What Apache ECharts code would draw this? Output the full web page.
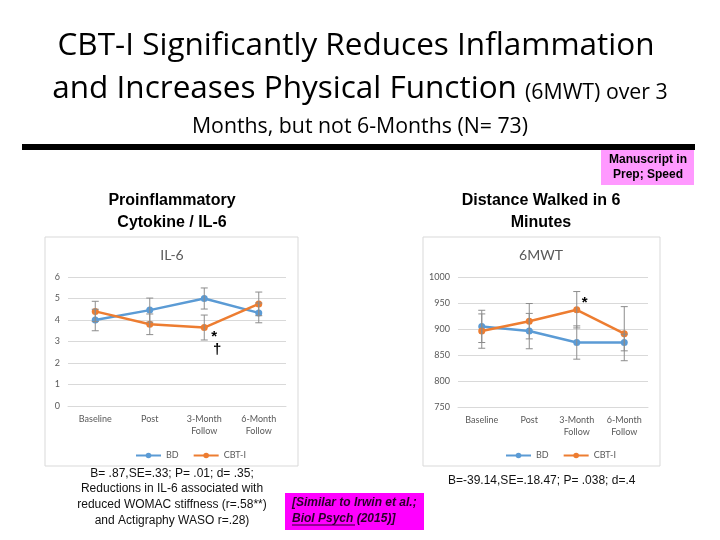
<!DOCTYPE html>
<html>
<head>
<meta charset="utf-8">
<script src="https://cdn.jsdelivr.net/npm/echarts@6/dist/echarts.min.js"></script>
<style>html,body{margin:0;padding:0;background:#fff}#c{width:720px;height:540px}</style>
</head>
<body>
<div id="c"></div>
<script>
// ---- data ----
const categories = ['Baseline', 'Post', '3-Month\nFollow', '6-Month\nFollow'];
const il6BD = [4.0, 4.46, 5.0, 4.33];
const il6BDErr = [0.5, 0.56, 0.49, 0.46];
const il6CBT = [4.4, 3.8, 3.65, 4.75];
const il6CBTErr = [0.47, 0.48, 0.58, 0.55];
const il6Ticks = [0, 1, 2, 3, 4, 5, 6];
const mwtBD = [905, 896, 874, 874];
const mwtBDErr = [31, 34, 32, 16];
const mwtCBT = [896, 915, 937, 891];
const mwtCBTErr = [33, 34, 35, 52];
const mwtTicks = [750, 800, 850, 900, 950, 1000];
const seriesNames = ['BD', 'CBT-I'];

const BLUE = '#5B9BD5', ORANGE = '#ED7D31', GRAY = '#595959', ERR = '#8c8c8c';
const chartFont = 'Lato, "Open Sans", sans-serif';
const titleFont = '"Open Sans", sans-serif';

function errData(vals, errs) { return vals.map((v, i) => [i, v, errs[i]]); }
function errRender(params, api) {
  const i = api.value(0), v = api.value(1), e = api.value(2);
  const hi = api.coord([i, v + e]), lo = api.coord([i, v - e]);
  const w = 3.5;
  const st = { stroke: ERR, lineWidth: 1 };
  return { type: 'group', children: [
    { type: 'line', shape: { x1: hi[0], y1: hi[1], x2: lo[0], y2: lo[1] }, style: st },
    { type: 'line', shape: { x1: hi[0] - w, y1: hi[1], x2: hi[0] + w, y2: hi[1] }, style: st },
    { type: 'line', shape: { x1: lo[0] - w, y1: lo[1], x2: lo[0] + w, y2: lo[1] }, style: st }
  ]};
}
function lineSeries(name, data, color, gi, mark) {
  const s = {
    name, type: 'line', xAxisIndex: gi, yAxisIndex: gi, data,
    symbol: 'circle', symbolSize: 7, color,
    lineStyle: { width: 2.5, color }, itemStyle: { color }, z: 3, animation: false
  };
  if (mark) s.markPoint = mark;
  return s;
}
function errSeries(name, vals, errs, gi) {
  return { name, type: 'custom', xAxisIndex: gi, yAxisIndex: gi, renderItem: errRender,
    data: errData(vals, errs), encode: { x: 0, y: 1 }, z: 4, silent: true, animation: false };
}
function annot(ci, v, txt, off) {
  return { coord: [ci, v], symbol: 'circle', symbolSize: 1, itemStyle: { color: 'rgba(0,0,0,0)' },
    label: { show: true, formatter: txt, position: 'inside', offset: off, color: '#000',
      fontWeight: 'bold', fontSize: 15, fontFamily: 'Liberation Sans, Arial' } };
}
const xAxisCommon = {
  type: 'category', data: categories, boundaryGap: true,
  axisLine: { lineStyle: { color: '#d9d9d9' } }, axisTick: { show: false },
  axisLabel: { color: GRAY, fontSize: 9, fontFamily: chartFont, lineHeight: 12, margin: 7, interval: 0 }
};
const yAxisCommon = {
  type: 'value', axisLine: { show: false }, axisTick: { show: false },
  splitLine: { lineStyle: { color: '#d9d9d9' } },
  axisLabel: { color: GRAY, fontSize: 9, fontFamily: chartFont, margin: 8, formatter: v => String(v) }
};
const legendCommon = { data: seriesNames, top: 446, itemWidth: 25, itemHeight: 7, itemGap: 14,
  textStyle: { color: GRAY, fontSize: 9, fontFamily: chartFont } };

const option = {
  backgroundColor: '#fff',
  animation: false,
  grid: [
    { left: 68, top: 277, width: 218, height: 129 },
    { left: 458, top: 277, width: 190, height: 130 }
  ],
  xAxis: [ Object.assign({ gridIndex: 0 }, xAxisCommon), Object.assign({ gridIndex: 1 }, xAxisCommon) ],
  yAxis: [
    Object.assign({ gridIndex: 0, min: il6Ticks[0], max: il6Ticks[il6Ticks.length - 1], interval: 1 }, yAxisCommon),
    Object.assign({ gridIndex: 1, min: mwtTicks[0], max: mwtTicks[mwtTicks.length - 1], interval: 50 }, yAxisCommon)
  ],
  legend: [
    Object.assign({ left: 130 }, legendCommon),
    Object.assign({ left: 500 }, legendCommon)
  ],
  series: [
    lineSeries(seriesNames[0], il6BD, BLUE, 0),
    lineSeries(seriesNames[1], il6CBT, ORANGE, 0, { data: [ annot(2, il6CBT[2], '*', [10, 9]), annot(2, il6CBT[2], '†', [13, 22]) ] }),
    errSeries(seriesNames[0], il6BD, il6BDErr, 0),
    errSeries(seriesNames[1], il6CBT, il6CBTErr, 0),
    lineSeries(seriesNames[0], mwtBD, BLUE, 1),
    lineSeries(seriesNames[1], mwtCBT, ORANGE, 1, { data: [ annot(2, mwtCBT[2], '*', [8, -7]) ] }),
    errSeries(seriesNames[0], mwtBD, mwtBDErr, 1),
    errSeries(seriesNames[1], mwtCBT, mwtCBTErr, 1)
  ],
  graphic: [
    // chart frames
    { type: 'rect', shape: { x: 45, y: 237, width: 253, height: 229 }, style: { fill: 'none', stroke: '#d9d9d9', lineWidth: 1 }, z: -1 },
    { type: 'rect', shape: { x: 423, y: 237, width: 237, height: 229 }, style: { fill: 'none', stroke: '#d9d9d9', lineWidth: 1 }, z: -1 },
    // chart titles
    { type: 'text', style: { text: 'IL-6', x: 172, y: 255, align: 'center', verticalAlign: 'middle', font: '14px ' + chartFont, fill: GRAY } },
    { type: 'text', style: { text: '6MWT', x: 541, y: 255, align: 'center', verticalAlign: 'middle', font: '14px ' + chartFont, fill: GRAY } },
    // slide title
    { type: 'text', style: { text: 'CBT-I Significantly Reduces Inflammation', x: 356, y: 46, align: 'center', verticalAlign: 'middle', font: '31.5px ' + titleFont, fill: '#000' } },
    { type: 'text', style: { x: 360, y: 105, align: 'center', verticalAlign: 'bottom',
        text: '{a|and Increases Physical Function }{b|(6MWT) over 3}',
        rich: { a: { font: '31.5px ' + titleFont, fill: '#000', verticalAlign: 'bottom' },
                b: { font: '21.3px ' + titleFont, fill: '#000', verticalAlign: 'bottom', padding: [0, 0, 2, 0] } } } },
    { type: 'text', style: { text: 'Months, but not 6-Months (N= 73)', x: 360, y: 127, align: 'center', verticalAlign: 'middle', font: '21.3px ' + titleFont, fill: '#000' } },
    { type: 'rect', shape: { x: 22, y: 144, width: 673, height: 6 }, style: { fill: '#000' } },
    // manuscript box
    { type: 'rect', shape: { x: 601, y: 150, width: 93, height: 35 }, style: { fill: '#FF99FF' } },
    { type: 'text', style: { text: 'Manuscript in\nPrep; Speed', x: 648, y: 167, align: 'center', verticalAlign: 'middle', lineHeight: 15, font: 'bold 12px "Liberation Sans", Arial, sans-serif', fill: '#000' } },
    // subheads
    { type: 'text', style: { text: 'Proinflammatory\nCytokine / IL-6', x: 172, y: 212, align: 'center', verticalAlign: 'middle', lineHeight: 22, font: 'bold 16px "Liberation Sans", Arial, sans-serif', fill: '#000' } },
    { type: 'text', style: { text: 'Distance Walked in 6\nMinutes', x: 541, y: 212, align: 'center', verticalAlign: 'middle', lineHeight: 22, font: 'bold 16px "Liberation Sans", Arial, sans-serif', fill: '#000' } },
    // notes
    { type: 'text', style: { text: 'B= .87,SE=.33; P= .01; d= .35;\nReductions in IL-6 associated with\nreduced WOMAC stiffness (r=.58**)\nand Actigraphy WASO r=.28)', x: 172, y: 497, align: 'center', verticalAlign: 'middle', lineHeight: 15.7, font: '12px "Liberation Sans", Arial, sans-serif', fill: '#111' } },
    { type: 'text', style: { text: 'B=-39.14,SE=.18.47; P= .038; d=.4', x: 448, y: 481, align: 'left', verticalAlign: 'middle', font: '12px "Liberation Sans", Arial, sans-serif', fill: '#111' } },
    { type: 'rect', shape: { x: 285, y: 493, width: 139, height: 37 }, style: { fill: '#FF00FF' } },
    { type: 'text', style: { text: '[Similar to Irwin et al.;\nBiol Psych (2015)]', x: 292, y: 511, align: 'left', verticalAlign: 'middle', lineHeight: 16, font: 'italic bold 12px "Liberation Sans", Arial, sans-serif', fill: '#2a002a' } },
    { type: 'line', shape: { x1: 292, y1: 525, x2: 355, y2: 525 }, style: { stroke: '#2a002a', lineWidth: 1 } }
  ]
};
const chart = echarts.init(document.getElementById('c'), null, { renderer: 'canvas' });
chart.setOption(option);
</script>
</body>
</html>
